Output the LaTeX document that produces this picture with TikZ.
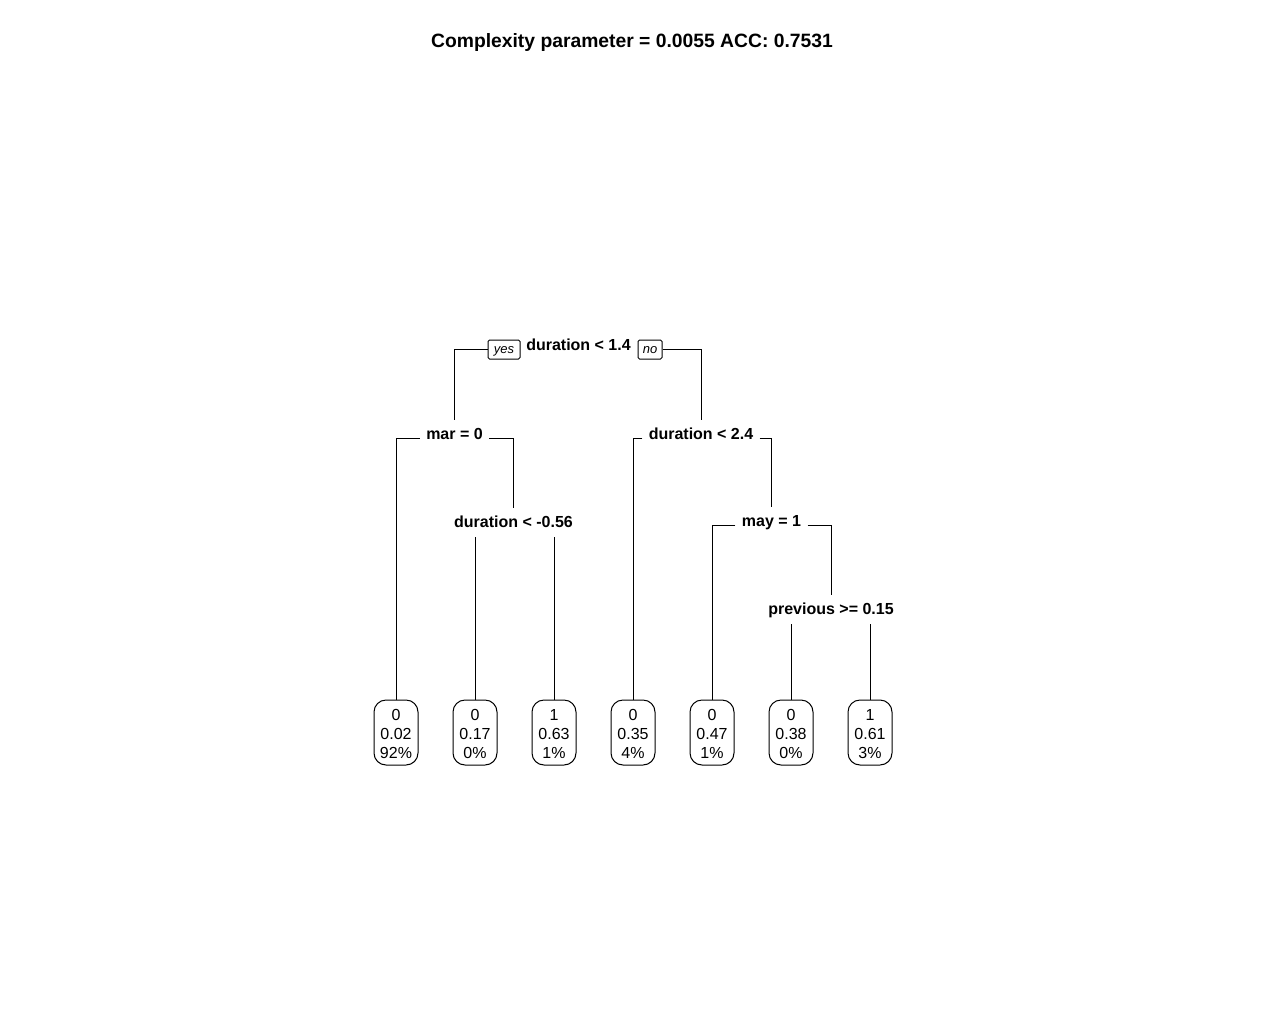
\documentclass[tikz,border=0pt]{standalone}
\usepackage{fontspec}
\setmainfont{Liberation Sans}
\newcommand\leaftext[3]{\rule{0pt}{15pt}#1\\#2\\#3\rule[-0.4pt]{0pt}{0.4pt}}
\begin{document}
\begin{tikzpicture}[x=1pt,y=-1pt, line width=1pt,
 split/.style={font=\fontsize{16}{19}\selectfont\bfseries, inner xsep=6pt, inner ysep=6pt, text height=13pt, text depth=3pt, anchor=base},
 leaf/.style={draw, rounded corners=12pt, minimum width=44pt, minimum height=65pt, inner sep=1pt, align=center, font=\fontsize{16}{19}\selectfont},
 yn/.style={draw, rounded corners=1.5pt, inner sep=0pt, minimum height=19pt, text height=9.5pt, text depth=2.5pt, font=\fontsize{13}{15}\selectfont\itshape}]
\useasboundingbox (0,0) rectangle (1267,1031);
\node[font=\fontsize{19.3}{23}\selectfont\bfseries, anchor=base] (title) at (632,47) {Complexity parameter = 0.0055 ACC: 0.7531};

\node[split] (root) at (578.5,350) {duration < 1.4};
\node[yn, minimum width=32pt] (yes) at (504,349.5) {yes};
\node[yn, minimum width=24pt] (no) at (650,349.5) {no};
\node[split] (mar) at (454.5,439) {mar = 0};
\node[split] (dur24) at (701,439) {duration < 2.4};
\node[split] (d056) at (513.5,527) {duration < -0.56};
\node[split] (may) at (771.5,526) {may = 1};
\node[split] (prev) at (831,614) {previous >= 0.15};

\node[leaf] (l1) at (396,732.5) {\leaftext{0}{0.02}{92\%}};
\node[leaf] (l2) at (475,732.5) {\leaftext{0}{0.17}{0\%}};
\node[leaf] (l3) at (554,732.5) {\leaftext{1}{0.63}{1\%}};
\node[leaf] (l4) at (633,732.5) {\leaftext{0}{0.35}{4\%}};
\node[leaf] (l5) at (712,732.5) {\leaftext{0}{0.47}{1\%}};
\node[leaf] (l6) at (791,732.5) {\leaftext{0}{0.38}{0\%}};
\node[leaf] (l7) at (870,732.5) {\leaftext{1}{0.61}{3\%}};

\draw (yes.west) -| (mar.north);
\draw (no.east) -| (dur24.north);
\draw ([yshift=1pt]mar.base west) -| (l1.north);
\draw ([yshift=1pt]mar.base east) -| (d056.north);
\draw ([yshift=1pt]dur24.base west) -| (l4.north);
\draw ([yshift=1pt]dur24.base east) -| (may.north);
\draw ([yshift=1pt]may.base west) -| (l5.north);
\draw ([yshift=1pt]may.base east) -| (prev.north);
\draw (l2.north) -- (l2.north |- d056.south);
\draw (l3.north) -- (l3.north |- d056.south);
\draw (l6.north) -- (l6.north |- prev.south);
\draw (l7.north) -- (l7.north |- prev.south);
\end{tikzpicture}
\end{document}
